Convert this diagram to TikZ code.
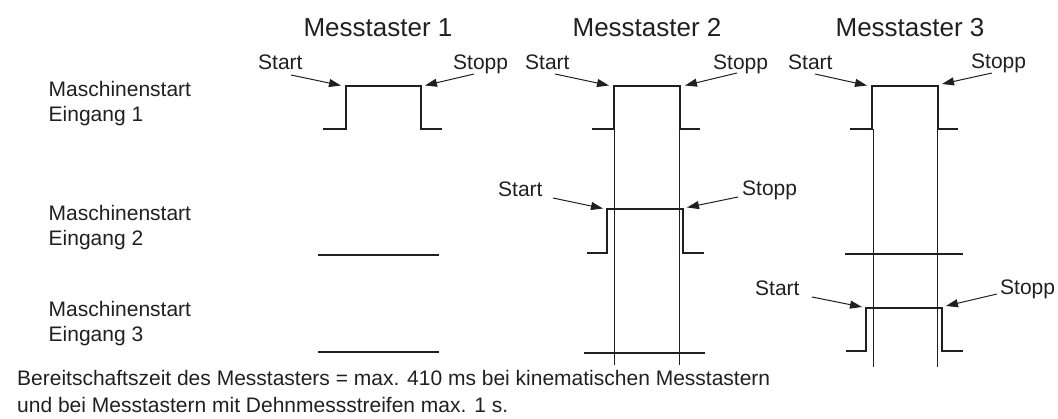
\documentclass[tikz,border=0pt]{standalone}
\usepackage{fontspec}
\setmainfont{Liberation Sans}
\usetikzlibrary{arrows.meta}
\definecolor{ink}{HTML}{231F20}
\tikzset{
  signal/.style={draw=ink, line width=2.6pt, line join=miter, line cap=butt},
  guide/.style={draw=ink, line width=0.8pt},
  pointer/.style={draw=ink, line width=1pt, -{Triangle[length=12pt,width=8pt]}},
  lbl/.style={inner sep=0pt, anchor=base west, text=ink, font=\fontsize{21}{25}\selectfont},
  heading/.style={inner sep=0pt, anchor=base, text=ink, font=\fontsize{26}{30}\selectfont},
}
% one pulse: #1 name, #2 left end, #3 rising edge, #4 falling edge, #5 right end, #6 low level, #7 high level
\newcommand\pulsetrace[7]{%
  \coordinate (#1-rise) at (#3,#7);
  \coordinate (#1-fall) at (#4,#7);
  \draw[signal] (#2,#6) -- (#3,#6) -- (#1-rise) -- (#1-fall) -- (#4,#6) -- (#5,#6);
}
\begin{document}
\begin{tikzpicture}[x=1pt,y=-1pt]
\useasboundingbox (0,0) rectangle (1058,419);

% column headings
\node[heading] (h1) at (378,37) {Messtaster 1};
\node[heading] (h2) at (647,37) {Messtaster 2};
\node[heading] (h3) at (910,37) {Messtaster 3};

% row labels
\node[lbl] (r1a) at (48.5,96.7) {Maschinenstart};
\node[lbl] (r1b) at (48.5,122) {Eingang 1};
\node[lbl] (r2a) at (48.5,221) {Maschinenstart};
\node[lbl] (r2b) at (48.5,246) {Eingang 2};
\node[lbl] (r3a) at (48.5,317) {Maschinenstart};
\node[lbl] (r3b) at (48.5,342) {Eingang 3};

% guide lines through the start and stop edges
\draw[guide] (614,129) -- (614,365);
\draw[guide] (679,129) -- (679,365);
\draw[guide] (873,129) -- (873,367);
\draw[guide] (937,129) -- (937,367);

% signal traces
\pulsetrace{pa}{323}{346}{421}{442}{129}{86}
\pulsetrace{pb}{592}{614}{680}{700}{129}{86}
\pulsetrace{pc}{850}{872}{938}{958}{129}{86}
\pulsetrace{pd}{587}{607}{683}{704}{253}{209}
\pulsetrace{pe}{846}{866}{942}{963}{351}{308}
\draw[signal] (318,255) -- (439,255);
\draw[signal] (318,352) -- (439,352);
\draw[signal] (584,353) -- (705,353);
\draw[signal] (845,254) -- (963,254);

% start / stop labels and pointers
\node[lbl] (sa) at (258,70) {Start};
\node[lbl] (ta) at (453,70) {Stopp};
\node[lbl] (sb) at (525,70) {Start};
\node[lbl] (tb) at (713,70) {Stopp};
\node[lbl] (sc) at (788,70) {Start};
\node[lbl] (tc) at (971,69) {Stopp};
\node[lbl] (sd) at (498,197) {Start};
\node[lbl] (td) at (742,196) {Stopp};
\node[lbl] (se) at (755,296) {Start};
\node[lbl] (te) at (1000,295) {Stopp};

\coordinate (sa-t) at (291,75);   \coordinate (sa-h) at (341,85.5);
\coordinate (ta-t) at (474,74);   \coordinate (ta-h) at (425,85.5);
\coordinate (sb-t) at (555,74);   \coordinate (sb-h) at (609,85.5);
\coordinate (tb-t) at (737,73);   \coordinate (tb-h) at (685,85.5);
\coordinate (sc-t) at (815,74);   \coordinate (sc-h) at (867,85.5);
\coordinate (tc-t) at (992,73);   \coordinate (tc-h) at (942,84);
\coordinate (sd-t) at (553,198);  \coordinate (sd-h) at (603,208.5);
\coordinate (td-t) at (738,197);  \coordinate (td-h) at (687,207.5);
\coordinate (se-t) at (812,297);  \coordinate (se-h) at (862,307);
\coordinate (te-t) at (997,294);  \coordinate (te-h) at (946,306);
\foreach \p in {sa,ta,sb,tb,sc,tc,sd,td,se,te}
  \draw[pointer] (\p-t) -- (\p-h);

% footnote
\node[lbl] (n1) at (17,386) {Bereitschaftszeit des Messtasters = max. 410 ms bei kinematischen Messtastern};
\node[lbl] (n2) at (17,413) {und bei Messtastern mit Dehnmessstreifen max. 1 s.};
\end{tikzpicture}
\end{document}
